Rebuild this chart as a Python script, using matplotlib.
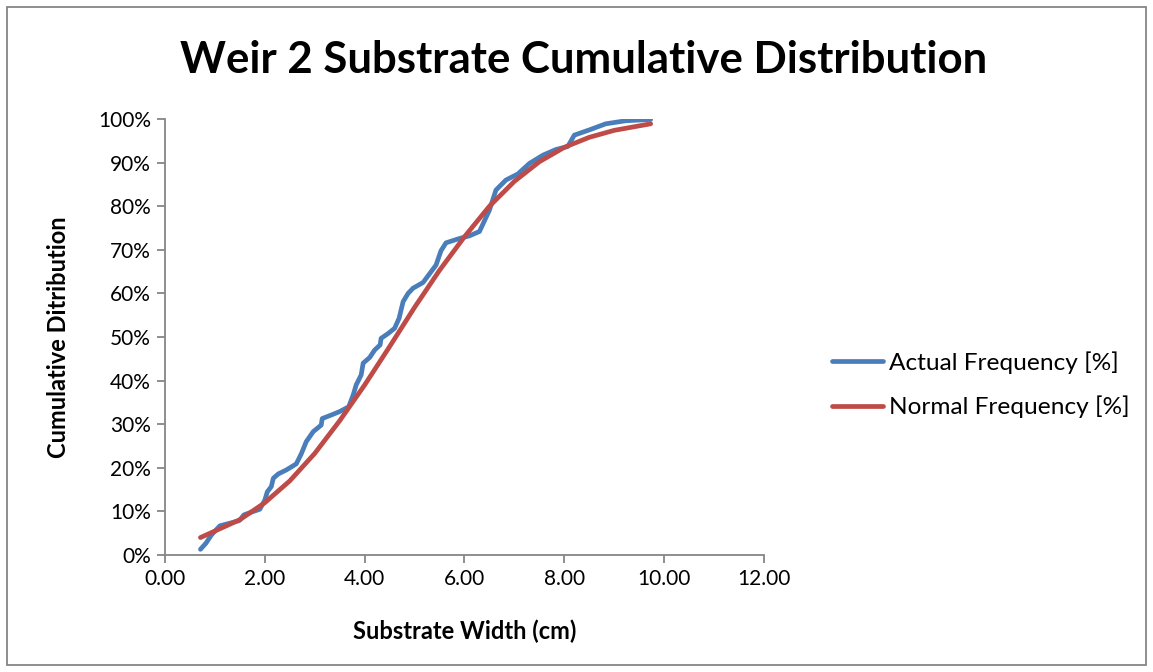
import matplotlib

matplotlib.use("Agg")
import matplotlib.pyplot as plt
from matplotlib.patches import Rectangle
from matplotlib.ticker import FuncFormatter, MultipleLocator

# substrate width (cm) vs cumulative share (%)
actual_x = [0.71, 0.82, 0.93, 1.10, 1.30, 1.49, 1.58, 1.70, 1.90, 2.00, 2.05, 2.13,
            2.17, 2.27, 2.43, 2.63, 2.73, 2.83, 2.97, 3.13, 3.15, 3.33, 3.50, 3.68,
            3.77, 3.83, 3.93, 3.97, 4.10, 4.20, 4.31, 4.33, 4.47, 4.60, 4.69, 4.77,
            4.87, 4.97, 5.17, 5.30, 5.43, 5.53, 5.63, 5.90, 6.10, 6.30, 6.50, 6.63,
            6.83, 7.07, 7.30, 7.57, 7.83, 8.07, 8.20, 8.50, 8.83, 9.23, 9.73]
actual_pct = [1.3, 2.7, 4.6, 6.7, 7.3, 7.9, 9.2, 9.7, 10.5, 12.6, 14.5, 15.7,
              17.6, 18.6, 19.5, 20.9, 23.2, 26.0, 28.3, 29.8, 31.3, 32.1, 32.9, 34.0,
              36.7, 39.0, 41.3, 44.0, 45.3, 47.0, 48.2, 49.7, 50.8, 52.0, 54.3, 58.1,
              60.0, 61.2, 62.5, 64.5, 66.5, 69.8, 71.6, 72.6, 73.2, 74.2, 79.1, 83.7,
              86.0, 87.4, 89.8, 91.7, 93.0, 93.7, 96.3, 97.5, 98.9, 99.6, 99.9]

normal_x = [0.71, 1.00, 1.50, 2.00, 2.50, 3.00, 3.50, 4.00, 4.50, 5.00, 5.50,
            6.00, 6.50, 7.00, 7.50, 8.00, 8.50, 9.00, 9.73]
normal_pct = [4.0, 5.5, 8.1, 12.0, 17.0, 23.3, 30.8, 39.0, 47.8, 56.8, 65.3,
              73.0, 80.0, 85.7, 90.2, 93.5, 95.8, 97.4, 98.9]

series_names = ["Actual Frequency [%]", "Normal Frequency [%]"]
title = "Weir 2 Substrate Cumulative Distribution"
x_label = "Substrate Width (cm)"
y_label = "Cumulative Ditribution"

BLUE = "#4a7ebb"
RED = "#be4b48"
GREY = "#868686"

plt.rcParams["font.family"] = ["Lato", "DejaVu Sans"]

fig = plt.figure(figsize=(11.53, 6.72), dpi=100)
fig.patches.append(Rectangle((0.006, 0.010), 0.988, 0.980, transform=fig.transFigure,
                             fill=False, ec=GREY, lw=1.3))

ax = fig.add_axes([0.1431, 0.1741, 0.5195, 0.6488])
ax.plot(actual_x, [v / 100 for v in actual_pct], color=BLUE, lw=3.4,
        solid_capstyle="round", solid_joinstyle="round", label=series_names[0])
ax.plot(normal_x, [v / 100 for v in normal_pct], color=RED, lw=3.4,
        solid_capstyle="round", solid_joinstyle="round", label=series_names[1])

ax.set_xlim(0, 12)
ax.set_ylim(0, 1)
ax.xaxis.set_major_locator(MultipleLocator(2))
ax.yaxis.set_major_locator(MultipleLocator(0.1))
ax.xaxis.set_major_formatter(FuncFormatter(lambda v, _: f"{v:.2f}"))
ax.yaxis.set_major_formatter(FuncFormatter(lambda v, _: f"{v * 100:.0f}%"))

for side in ("top", "right"):
    ax.spines[side].set_visible(False)
for side in ("left", "bottom"):
    ax.spines[side].set_color(GREY)
    ax.spines[side].set_linewidth(1.3)
ax.tick_params(direction="out", length=6, width=1.3, color=GREY, labelsize=15,
               labelcolor="black", pad=4)

ax.set_xlabel(x_label, fontsize=17, fontweight="bold")
ax.set_ylabel(y_label, fontsize=17, fontweight="bold")
ax.xaxis.set_label_coords(0.5, -0.148)
ax.yaxis.set_label_coords(-0.159, 0.5)
fig.text(0.5065, 0.911, title, ha="center", va="center", fontsize=31.5, fontweight="bold")

ax.legend(loc="center left", bbox_to_anchor=(1.113, 0.391), frameon=False, fontsize=17.6,
          handlelength=2.1, handletextpad=0.25, labelspacing=0.9,
          borderaxespad=0, borderpad=0)

fig.savefig("out.png", dpi=100)
